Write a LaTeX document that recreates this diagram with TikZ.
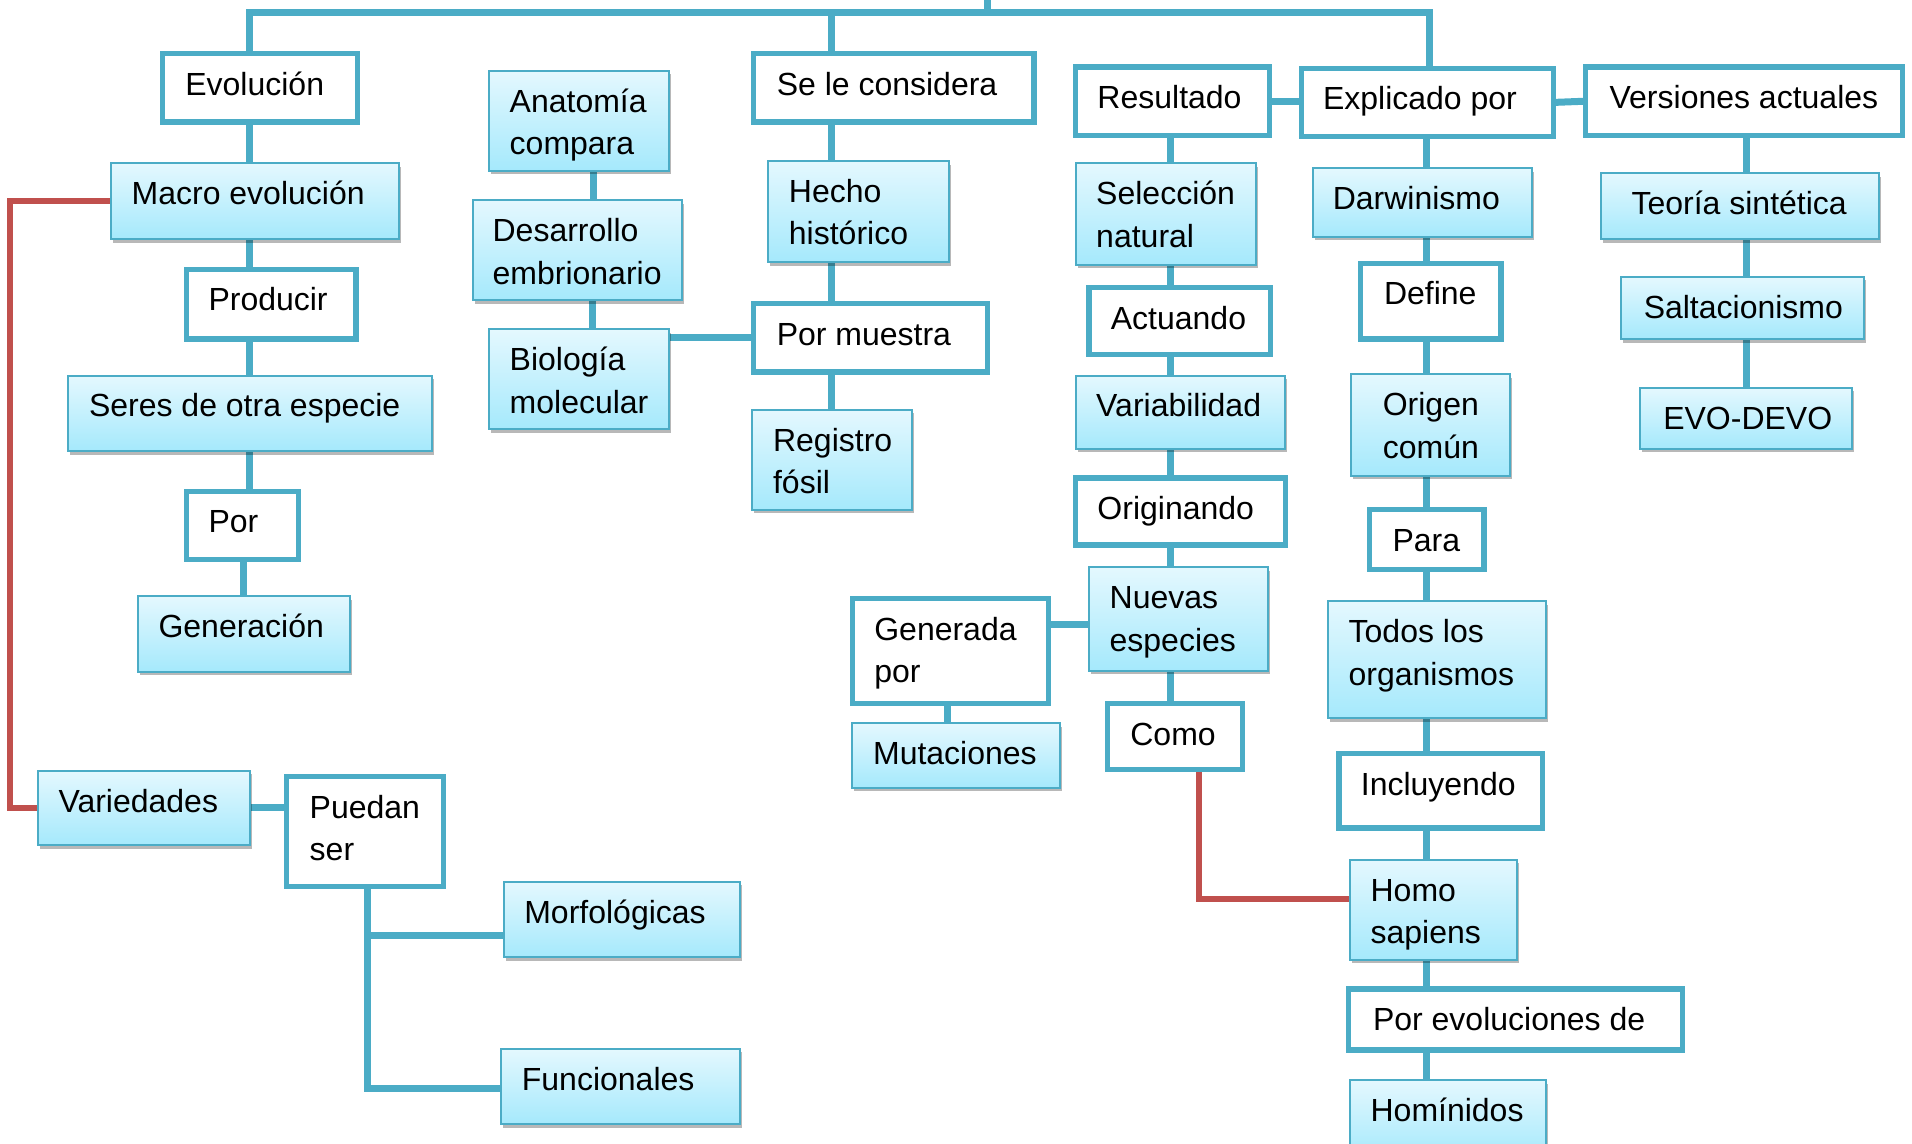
\documentclass[tikz,border=0pt]{standalone}
\usepackage{fontspec}
\setmainfont{Liberation Sans}
\usetikzlibrary{fit,shadows,backgrounds}
\definecolor{tealc}{RGB}{75,172,198}
\definecolor{redc}{RGB}{192,80,77}
\definecolor{btop}{RGB}{228,248,254}
\definecolor{bbot}{RGB}{165,233,252}
\tikzset{
  wbox/.style={draw=tealc, line width=2.6pt, fill=white, inner sep=0pt, outer sep=0pt},
  bbox/.style={draw=tealc, line width=1pt, top color=btop, bottom color=bbot, inner sep=0pt, outer sep=0pt,
    drop shadow={shadow xshift=1pt, shadow yshift=-1.8pt, opacity=0.28, fill=black}},
  txt/.style={anchor=north west, inner sep=0pt, outer sep=0pt, align=left, text=black,
    font=\fontsize{16}{21.3}\selectfont},
  tl/.style={draw=tealc, line width=3.5pt},
  rl/.style={draw=redc, line width=3pt},
}
\newcommand\mkbox[8]{%
  \node[#1, fit={(#3,#4) (#5,#6)}] (#2) {};
  \node[txt] (#2-t) at ([shift={(#7,11)}]#2.north west) {\rule{0pt}{14pt}#8};
}
\newcommand\vc[3]{\draw[tl] (#3,0 |- #1.south) -- (#3,0 |- #2.north);}
\begin{document}
\begin{tikzpicture}[x=0.6097pt, y=-0.6097pt]
\useasboundingbox (0,0) rectangle (1568,938);
% left column
\mkbox{wbox}{evol}{133}{44}{293}{100}{19}{Evolución}
\mkbox{bbox}{macro}{91}{134}{327}{196}{17}{Macro evolución}
\mkbox{wbox}{prod}{153}{221}{292}{278}{18}{Producir}
\mkbox{bbox}{seres}{56}{308}{354}{370}{17}{Seres de otra especie}
\mkbox{wbox}{por}{153}{403}{245}{459}{18}{Por}
\mkbox{bbox}{gene}{113}{489}{287}{551}{17}{Generación}
% anatomy column
\mkbox{bbox}{anat}{401}{58}{549}{140}{17}{Anatomía\\compara}
\mkbox{bbox}{desa}{388}{164}{559}{246}{16}{Desarrollo\\embrionario}
\mkbox{bbox}{biol}{401}{270}{549}{352}{17}{Biología\\molecular}
% se le considera column
\mkbox{wbox}{sele}{618}{44}{848}{100}{19}{Se le considera}
\mkbox{bbox}{hech}{630}{132}{778}{215}{17}{Hecho\\histórico}
\mkbox{wbox}{pmue}{618}{249}{810}{305}{19}{Por muestra}
\mkbox{bbox}{regi}{617}{336}{748}{418}{17}{Registro\\fósil}
% resultado column
\mkbox{wbox}{resu}{882}{55}{1041}{111}{18}{Resultado}
\mkbox{bbox}{selc}{882}{134}{1030}{217}{17}{Selección\\natural}
\mkbox{wbox}{actu}{893}{236}{1042}{291}{18}{Actuando}
\mkbox{bbox}{vari}{882}{308}{1054}{368}{17}{Variabilidad}
\mkbox{wbox}{orig}{882}{392}{1054}{447}{18}{Originando}
\mkbox{bbox}{nuev}{893}{465}{1040}{550}{17}{Nuevas\\especies}
\mkbox{wbox}{gena}{699}{491}{860}{577}{18}{Generada\\por}
\mkbox{bbox}{muta}{699}{593}{869}{646}{17}{Mutaciones}
\mkbox{wbox}{como}{908}{577}{1019}{631}{19}{Como}
% explicado column
\mkbox{wbox}{expl}{1067}{56}{1274}{112}{18}{Explicado por}
\mkbox{bbox}{darw}{1077}{138}{1256}{194}{16}{Darwinismo}
\mkbox{wbox}{defi}{1116}{216}{1231}{278}{19}{Define}
\mkbox{bbox}{orco}{1108}{307}{1238}{390}{26}{Origen\\común}
\mkbox{wbox}{para}{1123}{418}{1217}{467}{19}{Para}
\mkbox{bbox}{todo}{1089}{493}{1268}{589}{17}{Todos los\\organismos}
\mkbox{wbox}{incl}{1098}{618}{1265}{679}{18}{Incluyendo}
\mkbox{bbox}{homo}{1107}{705}{1244}{787}{17}{Homo\\sapiens}
\mkbox{wbox}{pevo}{1106}{811}{1380}{861}{20}{Por evoluciones de}
\mkbox{bbox}{homi}{1107}{886}{1268}{950}{17}{Homínidos}
% versiones column
\mkbox{wbox}{vers}{1300}{55}{1560}{111}{20}{Versiones actuales}
\mkbox{bbox}{teor}{1313}{142}{1541}{196}{25}{Teoría sintética}
\mkbox{bbox}{salt}{1329}{227}{1529}{278}{19}{Saltacionismo}
\mkbox{bbox}{evod}{1345}{318}{1519}{368}{19}{EVO-DEVO}
% bottom left
\mkbox{bbox}{vard}{31}{632}{205}{693}{17}{Variedades}
\mkbox{wbox}{pued}{235}{637}{364}{727}{19}{Puedan\\ser}
\mkbox{bbox}{morf}{413}{723}{607}{785}{17}{Morfológicas}
\mkbox{bbox}{func}{411}{860}{607}{922}{17}{Funcionales}
\begin{scope}[on background layer]
\coordinate (topend) at (810,-10);
\draw[tl] (topend) -- (810,10);
\draw[tl] (205,0 |- evol.north) -- (205,10) -- (1172,10) -- (1172,0 |- expl.north);
\draw[tl] (682,10) -- (682,0 |- sele.north);
\vc{evol}{macro}{205}
\vc{macro}{prod}{205}
\vc{prod}{seres}{205}
\vc{seres}{por}{205}
\vc{por}{gene}{200}
\vc{anat}{desa}{487}
\vc{desa}{biol}{486}
\vc{sele}{hech}{682}
\vc{hech}{pmue}{682}
\vc{pmue}{regi}{682}
\vc{resu}{selc}{960}
\vc{selc}{actu}{960}
\vc{actu}{vari}{960}
\vc{vari}{orig}{960}
\vc{orig}{nuev}{960}
\vc{nuev}{como}{960}
\vc{gena}{muta}{777}
\vc{expl}{darw}{1170}
\vc{darw}{defi}{1170}
\vc{defi}{orco}{1170}
\vc{orco}{para}{1170}
\vc{para}{todo}{1170}
\vc{todo}{incl}{1170}
\vc{incl}{homo}{1170}
\vc{homo}{pevo}{1170}
\vc{pevo}{homi}{1170}
\vc{vers}{teor}{1432}
\vc{teor}{salt}{1432}
\vc{salt}{evod}{1432}
\draw[tl] (biol.east |- pmue.west) -- (pmue.west);
\draw[tl] (resu.east) -- (resu.east -| expl.west);
\draw[tl] (expl.east) -- (vers.west);
\draw[tl] (gena.east |- 0,512) -- (nuev.west |- 0,512);
\draw[tl] (vard.east) -- (vard.east -| pued.west);
\draw[tl] (301,0 |- pued.south) -- (301,893) -- (func.west |- 0,893);
\draw[tl] (301,767) -- (morf.west |- 0,767);
\draw[rl] (macro.west) -- (8,0 |- macro.west) |- (vard.west);
\draw[rl] (983,0 |- como.south) |- (homo.west |- 0,737);
\end{scope}
\end{tikzpicture}
\end{document}
